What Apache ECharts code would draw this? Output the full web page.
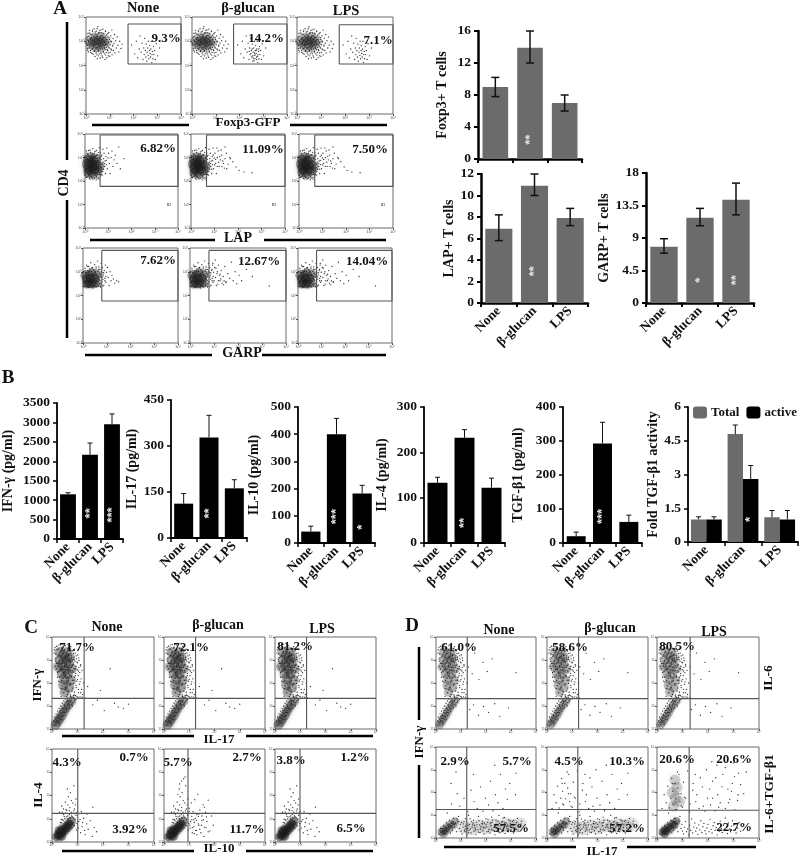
<!DOCTYPE html>
<html><head><meta charset="utf-8">
<style>html,body{margin:0;padding:0;background:#fff}#c{width:800px;height:858px}</style>
<script src="https://cdn.jsdelivr.net/npm/echarts@6/dist/echarts.min.js"></script>
</head><body><div id="c"></div>
<script>
// ---------- DATA: bar charts ----------
const treatments = ['None', 'β-glucan', 'LPS'];
const foxp3Values = [9, 13.9, 7], foxp3Low = [7.8, 12, 6], foxp3High = [10.2, 16, 8], foxp3Stars = ['', '**', ''], foxp3StarY = [0, 2.4, 0];
const lapValues = [6.9, 10.9, 7.9], lapLow = [5.8, 10, 7.2], lapHigh = [8.2, 12, 8.8], lapStars = ['', '**', ''], lapStarY = [0, 2.95, 0];
const garpValues = [7.8, 11.8, 14.3], garpLow = [6.9, 10.7, 12.2], garpHigh = [8.9, 13.1, 16.6], garpStars = ['', '*', '**'], garpStarY = [0, 3.15, 3.15];
const ifnValues = [1150, 2170, 2950], ifnHigh = [1190, 2470, 3220], ifnStars = ['', '**', '***'], ifnStarY = [0, 660, 620];
const il17Values = [112, 328, 162], il17High = [145, 400, 190], il17Stars = ['', '**', ''], il17StarY = [0, 80, 0];
const il10Values = [42, 400, 182], il10High = [62, 458, 212], il10Stars = ['', '***', '*'], il10StarY = [0, 97, 58];
const il4Values = [133, 232, 122], il4High = [145, 250, 143], il4Stars = ['', '**', ''], il4StarY = [0, 44, 0];
const tgfValues = [20, 293, 62], tgfHigh = [32, 355, 82], tgfStars = ['', '***', ''], tgfStarY = [0, 78, 0];
const foldTotal = [1, 4.8, 1.1], foldTotalHigh = [1.12, 5.2, 1.4];
const foldActive = [1, 2.8, 1], foldActiveHigh = [1.12, 3.4, 1.4], foldStars = ['', '*', ''], foldStarY = [0, 1, 0];

// ---------- DATA: flow cytometry dots, read by eye (axis units: hundredths of a decade) ----------
const foxp3Cloud = [[2,292],[4,315],[5,270],[7,305],[8,332],[9,283],[10,256],[12,298],[13,322],[14,272],[15,345],[16,288],[18,308],[19,262],[20,330],[21,279],[22,296],[24,316],[25,250],[26,285],[27,340],[28,302],[29,268],[31,322],[32,290],[33,276],[34,352],[35,308],[36,258],[37,296],[38,328],[39,282],[41,314],[42,268],[43,300],[44,342],[45,288],[46,244],[47,320],[48,274],[49,305],[50,360],[51,292],[52,262],[53,332],[54,282],[55,312],[56,248],[57,298],[58,345],[59,272],[60,318],[61,288],[62,255],[63,304],[64,335],[65,278],[66,296],[67,240],[68,322],[69,268],[70,308],[71,350],[72,286],[73,258],[74,314],[75,276],[76,330],[77,298],[78,248],[79,282],[80,316],[81,265],[82,340],[83,292],[84,306],[85,254],[86,274],[87,326],[88,288],[89,300],[91,262],[92,318],[93,280],[94,240],[95,296],[96,336],[98,272],[99,308],[101,254],[102,286],[104,322],[105,268],[107,298],[109,346],[110,244],[112,280],[114,312],[116,262],[118,292],[120,328],[122,252],[125,302],[128,272],[131,318],[134,284],[138,256],[142,300],[147,270],[152,288]];
const foxp3Fill = [[47,352],[63,347],[28,346],[82,343],[39,338],[55,336],[14,334],[72,333],[92,331],[25,327],[47,326],[63,324],[84,322],[8,320],[35,318],[58,314],[76,316],[98,315],[19,312],[44,310],[68,309],[88,307],[29,304],[54,303],[11,302],[75,301],[105,300],[37,299],[62,295],[93,293],[5,285],[22,289],[48,290],[82,287],[113,284],[33,283],[69,281],[56,279],[16,277],[96,276],[42,273],[78,271],[26,270],[61,267],[89,266],[108,264],[7,263],[36,262],[51,258],[73,255],[94,252],[20,254],[43,252],[64,248],[30,246],[83,243],[53,240],[70,234],[38,237],[100,238],[60,231],[88,232],[48,228],[80,225]];
const foxp3Gate = [[192,285],[205,248],[212,300],[218,232],[224,268],[228,322],[232,255],[236,292],[240,225],[243,272],[245,245],[247,312],[250,262],[252,235],[254,288],[256,218],[258,255],[260,272],[262,242],[263,300],[265,228],[267,262],[268,282],[270,250],[272,235],[273,268],[275,300],[277,212],[278,245],[280,258],[282,228],[284,278],[286,245],[289,262],[292,225],[296,290],[302,240],[310,272],[255,240],[263,252],[270,262],[248,250],[276,238],[258,230],[266,244],[253,268],[281,268],[261,220],[272,225],[241,258]];
const lapCloud = [[1,225],[2,262],[3,300],[4,240],[5,282],[6,215],[7,252],[8,318],[9,232],[10,272],[11,295],[12,218],[13,245],[14,262],[15,330],[16,228],[17,282],[18,305],[19,212],[20,250],[21,268],[22,238],[23,295],[24,322],[25,222],[26,258],[27,275],[28,242],[29,310],[30,215],[31,285],[32,252],[33,338],[34,232],[35,268],[36,298],[37,222],[38,245],[39,278],[40,318],[41,212],[42,258],[43,235],[44,288],[45,305],[46,248],[47,225],[48,270],[49,330],[50,218],[51,262],[52,295],[53,240],[54,280],[55,312],[56,228],[57,255],[58,288],[59,215],[60,268],[61,342],[62,235],[63,300],[64,248],[65,278],[66,222],[67,320],[68,260],[69,292],[70,240],[72,310],[74,225],[75,272],[77,335],[79,250],[80,295],[82,318],[84,262],[86,285],[88,232],[90,305],[92,270],[94,340],[96,252],[99,298],[102,318],[105,275],[108,232],[112,300],[116,328],[120,262],[125,290],[130,310],[138,275],[145,345],[152,252],[168,295]];
const lapFill = [[6,328],[22,332],[43,326],[58,322],[12,314],[33,316],[50,310],[70,305],[3,308],[26,304],[42,300],[61,296],[78,280],[9,292],[20,286],[36,284],[52,276],[66,272],[84,274],[4,270],[15,274],[29,266],[44,264],[57,268],[72,256],[92,288],[11,252],[24,248],[35,256],[49,252],[62,244],[76,240],[8,236],[19,234],[31,238],[45,232],[55,236],[70,228],[14,224],[27,218],[40,226],[52,212],[63,228],[4,216],[34,208],[22,208],[48,205],[60,208]];
const lapExtra = [[105,292],[112,262],[122,305],[128,332],[135,285],[142,255],[150,318],[158,272],[165,300],[178,282],[192,260],[205,245],[225,238],[260,235],[95,310],[101,268],[110,340],[118,280],[88,250],[132,262],[145,295]];
const garpCloud = [[1,238],[2,270],[3,300],[4,252],[5,285],[6,240],[7,262],[8,315],[9,248],[10,278],[11,296],[12,238],[13,258],[14,272],[15,328],[16,244],[17,288],[18,305],[19,236],[20,262],[21,276],[22,250],[23,298],[24,322],[25,240],[26,268],[27,282],[28,254],[29,312],[30,238],[31,290],[32,262],[33,338],[34,246],[35,275],[36,302],[37,240],[38,256],[39,284],[40,318],[41,236],[42,268],[43,248],[44,292],[45,308],[46,258],[47,242],[48,276],[49,330],[50,238],[51,270],[52,298],[53,252],[54,284],[55,312],[56,244],[57,264],[58,290],[59,238],[60,274],[61,345],[62,248],[63,302],[64,258],[65,280],[66,240],[67,320],[68,268],[69,294],[70,250],[72,310],[74,240],[75,278],[77,335],[79,258],[80,296],[82,318],[84,268],[86,286],[88,244],[90,305],[92,272],[94,328],[96,256],[99,298],[103,318],[106,276],[110,242],[114,300],[118,262],[122,285],[128,270],[134,252],[142,262],[150,258]];
const garpFill = [[18,322],[37,316],[55,320],[9,306],[27,302],[47,304],[66,310],[78,302],[15,294],[34,290],[58,284],[73,288],[87,296],[5,278],[22,280],[43,282],[65,270],[82,278],[12,266],[30,272],[50,262],[72,264],[92,262],[4,258],[20,252],[38,248],[56,254],[76,250],[96,280],[10,246],[27,244],[45,240],[64,246],[84,240],[15,238],[35,236],[54,236],[73,236],[25,234],[44,232]];
const garpExtra = [[95,335],[105,350],[112,292],[118,328],[125,262],[130,305],[138,280],[145,322],[150,255],[158,292],[165,272],[172,340],[180,262],[188,300],[195,250],[205,285],[215,262],[235,310],[260,280],[330,240],[92,310],[100,262],[108,315],[116,248],[126,290],[140,245]];
const ifnCloud = [[8,330],[12,355],[14,295],[16,310],[18,262],[20,345],[22,225],[24,285],[25,322],[27,365],[28,250],[30,298],[31,205],[33,338],[34,272],[36,235],[37,312],[38,352],[40,188],[41,262],[42,292],[44,328],[45,220],[46,245],[48,305],[49,275],[50,345],[51,170],[52,232],[54,315],[55,258],[56,288],[58,205],[59,335],[60,268],[61,150],[62,298],[64,242],[65,325],[66,222],[67,278],[68,308],[70,190],[71,350],[72,255],[73,288],[75,232],[76,318],[77,268],[78,165],[79,302],[80,212],[81,340],[83,248],[84,282],[85,198],[86,312],[87,262],[88,225],[89,148],[90,295],[91,330],[93,242],[94,272],[95,180],[96,305],[97,208],[99,258],[100,288],[101,322],[103,232],[104,158],[105,268],[106,298],[108,195],[109,245],[110,140],[112,280],[114,218],[116,172],[118,255],[120,150],[124,200],[128,135],
 [5,18],[7,35],[9,12],[10,52],[12,28],[13,44],[15,20],[16,66],[18,38],[19,55],[21,30],[22,78],[24,46],[25,62],[27,36],[28,90],[30,55],[31,72],[33,44],[34,100],[36,66],[37,82],[39,52],[40,112],[42,72],[43,92],[45,60],[46,122],[48,82],[49,105],[51,70],[52,130],[54,92],[55,115],[57,78],[58,140],[60,100],[61,125],[63,88],[65,112],[67,132],[69,95],[71,120],[73,142],[75,105],[78,130],[81,115],[84,138],[88,125],[92,145]];
const ifnFill = [[33,368],[52,362],[18,360],[74,358],[41,356],[62,350],[26,348],[88,347],[9,344],[48,340],[70,338],[31,332],[57,330],[84,329],[15,326],[40,322],[66,320],[95,318],[23,316],[50,312],[77,310],[105,309],[12,304],[36,303],[60,306],[86,302],[28,294],[46,296],[69,294],[98,291],[18,286],[38,284],[58,280],[80,276],[112,274],[25,274],[50,270],[70,266],[92,262],[14,272],[34,258],[60,256],[82,254],[104,252],[22,246],[44,240],[68,236],[92,232],[30,226],[54,222],[76,226],[100,216],[38,212],[64,210],[86,212],[110,205],[26,208],[48,196],[72,196],[94,190],[56,180],[80,178],[104,172],[36,176],[64,162],[88,160],[112,158],[46,158],[72,148],[98,142],[56,142],[84,146],[36,142],[118,138],
 [20,48],[26,58],[32,80],[38,68],[44,88],[50,98],[56,86],[62,108],[68,104],[74,124],[80,100],[86,118],[28,24],[40,40],[16,30],[47,72],[35,54],[58,118],[66,122],[94,128],[102,138],[76,136]];
const ifnRight = [[140,185],[160,105],[178,125],[190,168],[205,80],[228,262],[245,112],[260,96],[280,90],[300,108]];
const il4Cloud = [[10,16],[13,28],[15,20],[17,38],[19,25],[20,50],[22,32],[23,18],[25,44],[26,62],[28,36],[29,54],[31,26],[32,72],[34,46],[35,60],[37,34],[38,82],[40,52],[41,68],[43,42],[44,92],[46,60],[47,76],[49,50],[50,100],[52,66],[53,84],[55,56],[56,108],[58,74],[59,90],[61,62],[62,112],[64,80],[65,96],[67,68],[68,118],[70,86],[72,102],[74,76],[76,122],[78,92],[80,108],[83,84],[86,124],[90,98],[94,115],
 [30,128],[38,155],[45,118],[52,172],[58,135],[64,195],[70,148],[75,128],[82,168],[88,142],[94,185],[100,132],[60,228],[72,212],[86,242],
 [105,88],[112,40],[118,66],[124,102],[130,32],[136,78],[142,55],[150,92],[158,24],[166,62],[175,44],[115,130],[138,120],[160,150]];
const il4Fill = [[16,46],[24,58],[33,84],[41,96],[48,110],[54,124],[61,100],[69,106],[77,112],[84,104],[40,128],[55,140],[68,135],[85,134],[95,125],[28,18],[39,26],[52,36],[66,52],[78,62],[88,70],[98,80],[104,60],[110,96],[96,52],[120,84],[128,50],[36,98],[45,142],[62,160],[76,178],[92,160]];
const il4Extra = [[100,145],[108,168],[112,62],[118,96],[122,182],[126,50],[130,118],[134,205],[138,72],[142,138],[146,40],[150,112],[155,160],[160,64],[165,128],[170,88],[175,180],[182,48],[188,112],[195,72],[62,250],[70,262],[78,272],[55,205],[84,280],[102,72],[110,110],[120,36],[128,92],[136,110],[148,72],[156,96],[168,108]];
const il10Dense = [[22,22],[28,30],[33,45],[38,38],[42,58],[48,50],[54,64],[58,76],[62,62],[68,86],[73,74]];
const d1Right = [[130,270],[145,240],[155,330],[172,215],[188,290],[205,250],[225,305],[135,85],[150,105],[170,60],[190,98],[210,72],[235,110],[255,55],[290,92],[320,245]];
const d2Cloud = [[12,18],[16,32],[20,24],[24,42],[28,16],[30,55],[34,34],[36,20],[40,48],[42,68],[46,28],[48,60],[52,40],[54,78],[58,22],[60,52],[64,70],[66,34],[70,86],[74,48],[78,64],[82,28],[86,74],[90,95],[94,42],[98,60],
 [100,30],[104,18],[108,48],[112,72],[116,28],[120,40],[124,14],[128,56],[132,34],[136,84],[140,22],[144,48],[148,66],[152,30],[156,44],[160,16],[164,58],[168,36],[172,76],[176,24],[180,50],[184,64],[188,32],[192,18],[196,44],[200,60],[204,28],[208,82],[212,38],[216,22],[220,54],[224,68],[228,34],[232,46],[236,14],[240,60],[244,30],[248,74],[252,42],[256,24],[260,56],[264,36],[268,88],[272,48],[276,20],[280,66],[284,40],[288,28],[292,52],[296,76],[300,34],[304,58],[310,22],[316,44],[322,68],[328,30],[334,50],
 [45,110],[62,150],[72,125],[85,195],[95,140],[112,175],[128,115],[140,210],[152,160],[165,130],[178,225],[188,118],[198,175],[210,145],[218,250],[228,120],[238,190],[248,155],[258,280],[268,130],[278,215],[285,170],[295,240],[305,125],[318,190],[60,240],[80,290],[150,280],[235,320],[320,285]];
const d2Fill = [[110,62],[126,42],[142,72],[158,36],[174,58],[190,46],[206,70],[222,38],[238,52],[254,64],[270,32],[286,56],[302,46],[318,60],[114,34],[130,24],[146,58],[162,70],[178,40],[194,66],[210,30],[226,78],[242,44],[258,40],[274,66],[290,40],[306,72],[322,38],[340,62],[118,52],[138,40],[154,56],[170,26],[186,74],[202,50],[218,66],[234,58],[250,28],[266,72],[282,50],[298,62],[314,30],[26,30],[38,26],[50,50],[62,64],[72,60],[84,84],[92,72],[18,42]];
const d2Dense = [[102,68],[118,85],[134,60],[150,78],[170,95],[186,62],[200,84],[222,92],[240,78],[262,70],[274,90],[290,80],[310,78],[326,86],[342,74],[130,100],[252,100]];
const d2Upper = [[20,130],[28,190],[36,155],[42,228],[48,132],[54,175],[58,262],[62,205],[66,145],[70,240],[74,172],[78,125],[82,220],[86,280],[90,160],[94,195],[100,135],[104,245],[108,180],[120,295],[130,150],[142,240],[156,190],[170,265],[182,140],[194,300],[206,215],[218,175],[230,265],[242,135],[255,225],[268,310],[280,155],[292,205],[304,270],[316,165],[328,235],[340,195],[350,290],[300,330],[215,335]];
const foxp3Core = [[26,298],[38,302],[50,304],[62,298],[70,308],[48,284],[34,316],[74,286],[20,284],[58,320],[86,298],[12,300],[40,272],[62,274]];
const lapCore = [[12,258],[20,246],[30,262],[40,250],[24,276],[36,286],[50,268],[14,236],[34,230],[54,244],[12,290],[46,294],[62,262],[8,272],[24,300]];
const garpCore = [[14,268],[22,256],[32,272],[42,258],[26,288],[38,296],[52,272],[16,248],[34,248],[56,252],[60,288],[8,285]];
const ifnCore = [[32,300],[44,318],[56,300],[66,285],[40,275],[52,258],[62,240],[38,240],[48,215],[70,310],[30,335],[60,335],[44,190],[74,212],[24,270],[78,262],[68,180],[50,160],[22,30],[30,44],[38,58],[46,74],[54,90],[14,18],[64,105],[76,122]];
const il4Core = [[18,22],[24,32],[30,26],[34,44],[40,38],[44,54],[50,48],[38,24],[54,66],[60,60],[64,78],[70,72],[76,88],[28,50]];
const d2Core = [[22,26],[30,36],[38,30],[44,48],[52,42],[60,60],[68,56],[30,18],[76,74]];
const d2Haze = [[110,50],[140,42],[170,52],[200,46],[230,56],[260,50],[285,58],[310,52],[335,60]];
const d2LpsCore = [[64,140],[72,175],[60,200],[78,222],[88,160],[70,255]];

// ---------- DATA: gates and text ----------
const gateFoxp3 = [[177,206,400,371],[175,206,400,371],[176,206,400,368]];
const gateLap = [[65,177,400,396],[66,177,400,396],[67,177,400,396]];
const gateGarp = [[79,177,400,390],[79,177,400,390],[79,177,400,390]];
const quadIfnC = [[126,133],[125,133],[125,133]];
const quadIl4C = [[101,123],[95,123],[99,123]];
const quadD6 = [[125,132],[125,132],[130,132]];
const quadDT = [[123,125],[122,125],[126,122]];
const pctA = ['9.3%','14.2%','7.1%','6.82%','11.09%','7.50%','7.62%','12.67%','14.04%'];
const pctC = ['71.7%','72.1%','81.2%','4.3%','0.7%','3.92%','5.7%','2.7%','11.7%','3.8%','1.2%','6.5%'];
const pctD = ['61.0%','58.6%','80.5%','2.9%','5.7%','57.5%','4.5%','10.3%','57.2%','20.6%','20.6%','22.7%'];

// ---------- LAYOUT ----------
const SERIF = '"Liberation Serif","Times New Roman",serif';
const posA = [[166,39],[266,39],[378,41],[158,149],[263,150],[370,150],[158,261],[259,262],[367,262]];
const posC = [[77,648],[191,648],[295,647],[67,763],[134,758],[130,830],[178,763],[247,758],[247,830],[291,761],[355,758],[351,829]];
const posD = [[459,648],[570,648],[677,647],[455,762],[517,762],[511,829],[569,762],[627,762],[627,829],[677,760],[734,760],[734,828]];

const grids = [], xAxes = [], yAxes = [], series = [], gfx = [];

function addGrid(rect, x, y) {
  const i = grids.length;
  grids.push({left: rect[0], top: rect[1], width: rect[2], height: rect[3], show: !!rect[4],
    borderColor: '#6a6a6a', borderWidth: 1, containLabel: false});
  xAxes.push(Object.assign({gridIndex: i}, x));
  yAxes.push(Object.assign({gridIndex: i}, y));
  return i;
}

function flowAxis(pos, font) {
  return {type: 'value', min: 0, max: 400, interval: 100, position: pos, splitLine: {show: false},
    axisLine: {show: false}, axisTick: {show: true, length: 2, lineStyle: {color: '#555', width: 1}},
    axisLabel: {show: true, fontSize: font, color: '#555', margin: 1.5, fontFamily: 'Liberation Sans',
      formatter: v => ['10⁰','10¹','10²','10³','10⁴'][v / 100]}};
}

function flowPanel(rect, font, spec) {
  const g = addGrid(rect.concat(true), flowAxis('bottom', font), flowAxis('left', font));
  (spec.core || []).forEach(c => series.push({type: 'scatter', silent: true, xAxisIndex: g, yAxisIndex: g, data: c.d, symbolSize: c.s,
    itemStyle: {color: 'rgba(25,25,25,' + c.o + ')', shadowBlur: c.s * 0.5, shadowColor: 'rgba(25,25,25,0.3)'}}));
  (spec.dots || []).forEach(d => series.push({type: 'scatter', silent: true, xAxisIndex: g, yAxisIndex: g, data: d, symbolSize: 1.35,
    itemStyle: {color: '#222', opacity: 0.9}}));
  (spec.lines || []).forEach(l => series.push({type: 'line', silent: true, xAxisIndex: g, yAxisIndex: g, data: l, symbol: 'none',
    lineStyle: {color: '#555', width: 1.1}}));
}
const gateLine = r => [[[r[0], r[3]], [r[2], r[3]], [r[2], r[1]], [r[0], r[1]], [r[0], r[3]]]];
const quadLine = q => [[[q[0], 0], [q[0], 400]], [[0, q[1]], [400, q[1]]]];
const C = (d, s, o) => ({d, s, o});

function barPanel(rect, o) {
  const lw = o.lw, fs = o.fs || 13.5;
  const g = addGrid(rect, {
    type: 'category', data: treatments, boundaryGap: true,
    axisLine: {show: true, lineStyle: {color: '#000', width: lw}},
    axisTick: {show: true, alignWithLabel: false, inside: false, length: 4, lineStyle: {color: '#000', width: lw > 2 ? 2 : 1.5}},
    axisLabel: {show: !o.noCats, rotate: 45, interval: 0, margin: 6, fontFamily: SERIF, fontWeight: 'bold', fontSize: 13.5, color: '#111'}
  }, {
    type: 'value', min: 0, max: o.max, interval: o.step, splitLine: {show: false},
    name: o.name, nameLocation: 'middle', nameGap: o.gap, nameRotate: 90,
    nameTextStyle: {fontFamily: SERIF, fontWeight: 'bold', fontSize: o.nfs || 14, color: '#111'},
    axisLine: {show: true, lineStyle: {color: '#000', width: lw}},
    axisTick: {show: true, length: 4, lineStyle: {color: '#000', width: lw > 2 ? 2 : 1.5}},
    axisLabel: {fontFamily: SERIF, fontWeight: 'bold', fontSize: fs, color: '#111', margin: 7, formatter: v => String(v)}
  });
  const N = o.bars.length, off = N > 1 ? [-0.21, 0.21] : [0];
  o.bars.forEach((b, k) => {
    series.push({type: 'bar', name: b.name, xAxisIndex: g, yAxisIndex: g, data: b.v, barWidth: N > 1 ? '42%' : o.bw, barGap: 0,
      itemStyle: {color: b.color}, z: 2});
    const err = b.v.map((v, i) => [i, b.low ? b.low[i] : v, b.high[i]]);
    const cap = o.cap, sw = o.sw, dx = off[k];
    series.push({type: 'custom', silent: true, xAxisIndex: g, yAxisIndex: g, data: err, encode: {x: 0, y: [1, 2]}, z: 3,
      renderItem(p, api) {
        const band = api.size([1, 0])[0];
        const a = api.coord([api.value(0), api.value(1)]), t = api.coord([api.value(0), api.value(2)]);
        const x = a[0] + dx * band;
        const st = {stroke: '#111', lineWidth: sw, fill: null};
        const kids = [
          {type: 'line', shape: {x1: x, y1: a[1], x2: x, y2: t[1]}, style: st},
          {type: 'line', shape: {x1: x - cap, y1: t[1], x2: x + cap, y2: t[1]}, style: st}];
        if (b.low) kids.push({type: 'line', shape: {x1: x - cap, y1: a[1], x2: x + cap, y2: a[1]}, style: st});
        return {type: 'group', children: kids};
      }});
    if (b.stars) {
      const sd = b.v.map((v, i) => b.stars[i] ? [i, b.starY[i]] : null).filter(Boolean);
      const st = b.v.map((v, i) => b.stars[i]).filter(Boolean);
      series.push({type: 'custom', silent: true, xAxisIndex: g, yAxisIndex: g, data: sd, encode: {x: 0, y: 1}, z: 4,
        renderItem(p, api) {
          const band = api.size([1, 0])[0];
          const c = api.coord([api.value(0), api.value(1)]);
          return {type: 'text', x: c[0] + dx * band, y: c[1], rotation: Math.PI / 2, z2: 10,
            style: {text: st[p.dataIndex], align: 'center', verticalAlign: 'middle', fill: '#e4e4e4',
              font: 'bold 13px "Liberation Sans"'}};
        }});
    }
  });
  return g;
}

function text(t, x, y, size, rot, weight) {
  gfx.push({type: 'text', x, y, rotation: rot ? rot * Math.PI / 180 : 0, silent: true, z: 20,
    style: {text: t, x: 0, y: 0, align: 'center', verticalAlign: 'middle', fill: '#111',
      font: (weight || 'bold') + ' ' + size + 'px ' + SERIF}});
}
function hbar(x1, x2, y, w) {
  gfx.push({type: 'line', silent: true, shape: {x1, y1: y, x2, y2: y}, style: {stroke: '#000', lineWidth: w || 2.5}});
}
function vbar(x, y1, y2, w) {
  gfx.push({type: 'line', silent: true, shape: {x1: x, y1, x2: x, y2}, style: {stroke: '#000', lineWidth: w || 2.5}});
}

// ---------- PANEL A ----------
const rectsA1 = [[86,17,95,97],[192,17,95,97],[297,17,96,97]];
const rectsA2 = [[85,134,93,94],[191,134,94,94],[299,134,94,94]];
const rectsA3 = [[83,248,95,95],[190,248,96,95],[298,248,94,95]];
rectsA1.forEach((r, i) => flowPanel(r, 4, {dots: [foxp3Cloud, foxp3Fill, i === 1 ? foxp3Gate : foxp3Gate.slice(0, 38)], core: [C(foxp3Core, 9, 0.3)], lines: gateLine(gateFoxp3[i])}));
rectsA2.forEach((r, i) => flowPanel(r, 4, {dots: i ? [lapCloud, lapFill, lapExtra] : [lapCloud, lapFill], core: [C(lapCore, 10, 0.5)], lines: gateLine(gateLap[i])}));
rectsA3.forEach((r, i) => flowPanel(r, 4, {dots: i ? [garpCloud, garpFill, garpExtra] : [garpCloud, garpFill], core: [C(garpCore, 9, 0.5)], lines: gateLine(gateGarp[i])}));
pctA.forEach((t, i) => text(t, posA[i][0], posA[i][1], 13));
[[169,205],[274,205],[383,205]].forEach(p => text('R3', p[0], p[1], 4, 0, 'normal'));
text('A', 60, 9, 19);
text('None', 143, 8, 14.5); text('β-glucan', 248, 8, 14.5); text('LPS', 346, 11, 14.5);
hbar(92, 189, 125); hbar(290, 387, 125); text('Foxp3-GFP', 248, 123, 13);
hbar(90, 215, 240); hbar(264, 386, 240); text('LAP', 238, 238, 14);
hbar(85, 212, 355); hbar(262, 386, 355); text('GARP', 242, 353, 14);
vbar(67, 22, 160, 2.5); vbar(67, 200, 338, 2.5); text('CD4', 64, 183, 14, 90);

const GRAY = '#6b6b6b', BLACK = '#000';
barPanel([478,31,104,128], {lw: 2.5, noCats: true, max: 16, step: 4, name: 'Foxp3+ T cells', gap: 29, bw: '74%', cap: 4, sw: 1.5,
  bars: [{v: foxp3Values, low: foxp3Low, high: foxp3High, color: GRAY, stars: foxp3Stars, starY: foxp3StarY}]});
barPanel([481,174,107,129], {lw: 2.5, max: 12, step: 2, name: 'LAP+ T cells', gap: 23, bw: '76%', cap: 4, sw: 1.5,
  bars: [{v: lapValues, low: lapLow, high: lapHigh, color: GRAY, stars: lapStars, starY: lapStarY}]});
barPanel([646,173,108,130], {lw: 2.5, max: 18, step: 4.5, name: 'GARP+ T cells', gap: 34, bw: '76%', cap: 4, sw: 1.5,
  bars: [{v: garpValues, low: garpLow, high: garpHigh, color: GRAY, stars: garpStars, starY: garpStarY}]});

// ---------- PANEL B ----------
text('B', 8, 378, 19);
barPanel([53,403,70,136], {lw: 1.8, max: 3500, step: 500, name: 'IFN-γ (pg/ml)', gap: 42, bw: '72%', cap: 2.5, sw: 1,
  bars: [{v: ifnValues, high: ifnHigh, color: BLACK, stars: ifnStars, starY: ifnStarY}]});
barPanel([171,400,76,138], {lw: 1.8, max: 450, step: 150, name: 'IL-17 (pg/ml)', gap: 32, bw: '75%', cap: 2.5, sw: 1,
  bars: [{v: il17Values, high: il17High, color: BLACK, stars: il17Stars, starY: il17StarY}]});
barPanel([298,407,77,136], {lw: 1.8, max: 500, step: 100, name: 'IL-10 (pg/ml)', gap: 37, bw: '75%', cap: 2.5, sw: 1,
  bars: [{v: il10Values, high: il10High, color: BLACK, stars: il10Stars, starY: il10StarY}]});
barPanel([424,407,81,136], {lw: 1.8, max: 300, step: 100, name: 'IL-4 (pg/ml)', gap: 35, bw: '74%', cap: 2.5, sw: 1,
  bars: [{v: il4Values, high: il4High, color: BLACK, stars: il4Stars, starY: il4StarY}]});
barPanel([563,407,79,136], {lw: 1.8, max: 400, step: 100, name: 'TGF-β1 (pg/ml)', gap: 38, bw: '72%', cap: 2.5, sw: 1,
  bars: [{v: tgfValues, high: tgfHigh, color: BLACK, stars: tgfStars, starY: tgfStarY}]});
barPanel([688,407,110,135], {lw: 1.8, max: 6, step: 1.5, name: 'Fold TGF-β1 activity', gap: 21, cap: 2.5, sw: 1,
  bars: [{name: 'Total', v: foldTotal, high: foldTotalHigh, color: GRAY},
         {name: 'active', v: foldActive, high: foldActiveHigh, color: BLACK, stars: foldStars, starY: foldStarY}]});

// ---------- PANEL C ----------
const rectsC1 = [[52,637,102,92],[164,637,101,92],[275,637,101,92]];
const rectsC2 = [[52,749,102,93],[164,749,101,93],[275,749,101,93]];
rectsC1.forEach((r, i) => flowPanel(r, 3, {dots: [ifnCloud, ifnFill, ifnRight], core: [C(ifnCore, 10, 0.42)], lines: quadLine(quadIfnC[i])}));
rectsC2.forEach((r, i) => flowPanel(r, 3, {dots: i === 1 ? [il4Cloud, il4Fill, il4Extra] : [il4Cloud, il4Fill], core: [C(il4Core, 9, 0.55)], lines: quadLine(quadIl4C[i])}));
pctC.forEach((t, i) => text(t, posC[i][0], posC[i][1], 13));
text('C', 31, 628, 19);
text('None', 107, 627, 14); text('β-glucan', 218, 625, 14); text('LPS', 322, 629, 14);
hbar(62, 194, 736); hbar(246, 373, 736); text('IL-17', 219, 740, 13);
hbar(62, 194, 851); hbar(246, 373, 851); text('IL-10', 219, 849, 13);
text('IFN-γ', 38, 685, 13, 90); text('IL-4', 39, 795, 13.5, 90);

// ---------- PANEL D ----------
const rectsD1 = [[436,637,100,92],[547,637,101,92],[657,637,102,92]];
const rectsD2 = [[436,747,100,91],[547,747,101,91],[657,747,102,91]];
rectsD1.forEach((r, i) => flowPanel(r, 3, {dots: [ifnCloud, ifnFill, d1Right], core: [C(ifnCore, 9, 0.34)], lines: quadLine(quadD6[i])}));
rectsD2.forEach((r, i) => flowPanel(r, 3, {
  dots: i === 2 ? [d2Cloud, d2Upper, il10Dense] : i === 1 ? [d2Cloud, d2Fill, d2Dense, d2Upper.slice(0, 26)] : [d2Cloud, d2Fill, d2Dense],
  core: i === 2 ? [C(d2Core, 8, 0.55), C(d2LpsCore, 11, 0.22)] : [C(d2Core, 8, 0.38), C(d2Haze, 14, 0.14)], lines: quadLine(quadDT[i])}));
pctD.forEach((t, i) => text(t, posD[i][0], posD[i][1], 13));
text('D', 412, 626, 19);
text('None', 499, 630, 14); text('β-glucan', 610, 628, 14); text('LPS', 714, 632, 14);
vbar(419, 647, 720, 2.5); vbar(419, 765, 838, 2.5); text('IFN-γ', 420, 742, 13, 90);
hbar(444, 576, 847); hbar(627, 756, 847); text('IL-17', 602, 852, 13);
text('IL-6', 769, 678, 13.5, 90); text('IL-6+TGF-β1', 770, 794, 13.5, 90);

const chart = echarts.init(document.getElementById('c'), null, {renderer: 'canvas'});
chart.setOption({
  animation: false, backgroundColor: '#fff',
  grid: grids, xAxis: xAxes, yAxis: yAxes, series,
  legend: {left: 693, top: 406, itemWidth: 14, itemHeight: 12, itemGap: 7, selectedMode: false, padding: 0,
    data: ['Total', 'active'], textStyle: {fontFamily: SERIF, fontWeight: 'bold', fontSize: 13, color: '#111', padding: [0, 0, 0, -1]}},
  graphic: gfx
});
</script></body></html>
